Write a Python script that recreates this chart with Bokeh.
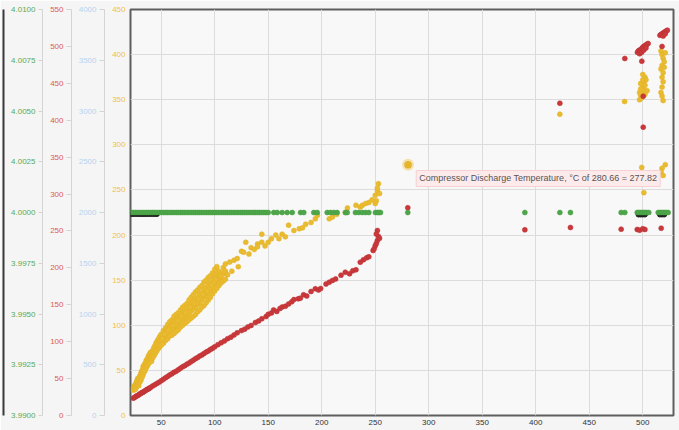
from bokeh.plotting import figure
from bokeh.models import Range1d, LinearAxis, FixedTicker, Label, CustomJSTickFormatter
from bokeh.embed import file_html
from bokeh.resources import INLINE

# ---------------- data ----------------
x_ticks = [50, 100, 150, 200, 250, 300, 350, 400, 450, 500]
yellow_ticks = [0, 50, 100, 150, 200, 250, 300, 350, 400, 450]
red_ticks = [0, 50, 100, 150, 200, 250, 300, 350, 400, 450, 500, 550]
blue_ticks = [0, 500, 1000, 1500, 2000, 2500, 3000, 3500, 4000]
green_ticks = [3.99, 3.9925, 3.995, 3.9975, 4.0, 4.0025, 4.005, 4.0075, 4.01]

# Compressor Discharge Temperature (yellow, inner left axis) - dense band
yb_x = [24, 24, 24, 25, 25, 25, 26, 26, 26, 27, 27, 27, 28, 28, 28, 29, 29, 29, 30, 30, 30,
        31, 31, 31, 32, 32, 32, 33, 33, 33, 34, 34, 34, 35, 35, 35, 36, 36, 36, 37, 37, 37,
        38, 38, 38, 39, 39, 39, 40, 40, 40, 41, 41, 41, 42, 42, 42, 43, 43, 43, 44, 44, 44,
        45, 45, 45, 46, 46, 46, 47, 47, 47, 48, 48, 48, 49, 49, 49, 50, 50, 50,
        52, 52, 52, 52, 54, 54, 54, 54, 56, 56, 56, 56, 58, 58, 58, 58, 60, 60, 60, 60,
        62, 62, 62, 62, 64, 64, 64, 64, 66, 66, 66, 66, 68, 68, 68, 68, 70, 70, 70, 70,
        72, 72, 72, 72, 74, 74, 74, 74, 76, 76, 76, 76, 78, 78, 78, 78, 80, 80, 80, 80,
        82, 82, 82, 82, 84, 84, 84, 84, 86, 86, 86, 86, 88, 88, 88, 88, 90, 90, 90, 90,
        92, 92, 92, 92, 94, 94, 94, 94, 96, 96, 96, 96, 98, 98, 98, 98, 100, 100, 100, 100,
        102, 102, 102, 102, 104, 104, 104, 106, 106, 108, 108, 108, 110, 110, 110,
        51, 55, 59, 63, 67, 71, 75, 79, 83, 87, 91, 95, 99, 103, 107,
        53, 57, 61, 65, 69, 73, 77, 81, 85, 89, 93, 97, 101, 105, 109]
yb_y = [28, 29.5, 31, 30, 31.5, 33, 29, 32, 35, 32, 35, 38, 34, 37.5, 41, 33, 36.5, 40, 37, 40.5, 44,
        39, 43, 47, 42, 46, 50, 45, 49.5, 54, 48, 52, 56, 50, 54, 58, 53, 57, 61, 55, 59, 63,
        57, 61.5, 66, 59, 63.5, 68, 62, 66, 70, 60, 63, 66, 64, 68, 72, 66, 70.5, 75, 68, 72.5, 77,
        70, 75, 80, 72, 77, 82, 74, 79, 84, 75, 80.5, 86, 77, 82.5, 88, 78, 84, 90,
        80, 85, 89, 94, 83, 88, 92, 97, 85, 90, 96, 101, 88, 93, 99, 104, 89, 95, 100, 106,
        91, 97, 104, 110, 93, 99, 106, 112, 95, 101, 108, 114, 98, 104, 111, 117, 100, 107, 113, 120,
        102, 109, 115, 122, 104, 111, 117, 124, 106, 113, 121, 128, 108, 116, 123, 131, 110, 118, 126, 134,
        112, 120, 129, 137, 115, 123, 131, 139, 117, 125, 134, 142, 120, 128, 136, 144, 122, 131, 139, 148,
        125, 133, 142, 150, 128, 136, 145, 153, 131, 139, 147, 155, 135, 143, 150, 158, 138, 146, 154, 162,
        141, 149, 157, 165, 144, 152, 160, 147, 152, 149, 157, 164, 151, 160, 168,
        85, 92, 97, 101, 107, 111, 115, 121, 125, 130, 135, 140, 147, 152, 157,
        90, 95, 100, 105, 110, 114, 120, 124, 129, 134, 138, 144, 151, 155, 160]

# yellow - scattered points
ys_x = [112, 114, 116, 118, 121, 122, 125, 127, 129, 132, 134, 137, 140, 140, 144, 144,
        147, 150, 153, 157, 160, 163, 166, 169, 174, 179, 182, 185, 190, 194, 196, 207,
        210, 214, 222, 224, 232, 236, 238, 241, 244, 247, 250, 251, 250, 252, 254, 252, 253,
        422.5, 483, 480, 495, 497, 499, 499, 500, 501,
        497, 498, 499, 500, 501, 502, 498, 500, 503, 499, 501, 497, 502, 500, 504, 498, 502,
        517, 518, 519, 520, 518, 517, 519, 518, 519, 518, 517, 518, 519, 521, 520,
        518, 517, 519, 521]
ys_y = [156, 170, 160, 172, 174, 165, 182, 181, 192, 179, 186, 184, 190, 187, 201, 192,
        188, 192, 196, 200, 196, 201, 198, 211, 205, 207, 208, 212, 214, 218, 222, 218,
        220, 223, 225, 230, 233, 231, 233, 235, 236, 239, 235, 238, 244, 249, 246, 252, 257,
        334, 348, 258, 264, 262, 275, 268, 258, 247,
        350, 355, 360, 365, 370, 375, 368, 378, 372, 352, 362, 358, 366, 372, 360, 362, 356,
        404, 400, 396, 392, 388, 384, 380, 375, 370, 364, 358, 354, 349, 402, 386,
        274, 270, 266, 278]

# second temperature series (red, red axis)
red_x = [24, 25, 26, 27, 28, 29, 30, 31, 32, 33, 34, 35, 36, 37, 38, 39, 40, 42, 44, 46,
         48, 50, 52, 54, 56, 58, 60, 62, 64, 66, 68, 70, 72, 74, 76, 78, 80, 82, 84, 86,
         88, 90, 92, 94, 96, 98, 100, 103, 106, 109, 112, 115, 118, 121, 125, 128, 131, 134, 138, 141,
         144, 148, 150, 153, 155, 158, 161, 163, 166, 169, 172, 174, 178, 180, 183, 186, 190, 194, 197, 199,
         204, 207, 210, 213, 218, 222, 226, 229, 232, 236, 239, 242, 244, 248, 249, 250, 251, 252, 253, 254,
         252, 251,
         280.4, 389.8, 422.5, 432.4, 479.8, 483.2, 494.8, 497, 500, 502, 499.1, 500.4, 500.4,
         495, 496, 497, 498, 499, 500, 501, 502, 503, 504, 505, 497, 499, 501, 503,
         516, 517, 518, 519, 520, 521, 522, 523, 519, 521, 518, 517.2]
red_y = [23.5, 24.5, 25.5, 26.5, 27, 28, 29, 30, 31, 31.5, 32.5, 33.5, 34.5, 35.5, 36, 37, 38, 40, 41.5, 43.5,
         45, 47, 49, 51, 53, 55, 56.5, 58.5, 60, 62, 64, 66, 67.5, 69.5, 71, 73, 75, 77, 78.5, 80.5,
         82, 84, 86, 87.5, 89.5, 91, 93, 96, 98.5, 101, 104, 106, 109, 112, 115, 117, 120, 122, 126, 128,
         131, 134, 137, 139, 143, 141, 145, 147, 148, 151, 154, 157, 158, 159, 163.5, 162, 168, 171.6, 170, 172,
         178, 180.6, 183, 185, 190, 194, 192, 196, 197.4, 207.7, 211, 213.6, 215, 223.5, 226, 230, 233, 237, 242.5, 240,
         250.6, 246,
         281.4, 251.5, 423, 254.7, 252.4, 483.6, 252, 251, 253, 252, 480, 390.6, 432.5,
         492, 494, 495, 495, 497, 499, 500, 501, 502, 503, 504, 490, 492, 495, 498,
         515, 516, 517, 518, 519, 520, 521, 522, 514, 517, 500, 253.7]

# constant series (green, green axis)
green_x = [22, 24, 26, 28, 30, 32, 34, 36, 38, 40, 42, 44, 46, 48, 50, 52, 54, 56, 58, 60,
           62, 64, 66, 68, 70, 72, 74, 76, 78, 80, 82, 84, 86, 88, 90, 92, 94, 96, 98, 100,
           102, 104, 106, 108, 110, 112, 114, 116, 118, 120, 122, 124, 126, 128, 130, 132, 134, 136, 138, 140,
           142, 144, 146, 148, 150,
           155.2, 158.4, 163, 167.7, 172.4, 180.2, 183.2, 192.6, 195.8, 205.1, 208.2, 211.3, 214.4,
           222.2, 223.8, 231.5, 234.6, 237.8, 240.9, 244, 250.2, 252, 253.5, 254.9, 280.4,
           389.8, 422.5, 432.4, 479.8, 483.2,
           494.8, 496.3, 497.8, 499.3, 500.8, 502.3, 503.8, 505.6,
           514.4, 515.9, 517.4, 518.9, 520.4, 521.9, 523.7]
green_y = [4.0] * len(green_x)

# black series (blue axis)
black_x = [22, 24, 26, 28, 30, 32, 34, 36, 38, 40, 42, 44, 46,
           496, 498, 500, 502, 516, 518, 520]
black_y = [1985, 1985, 1985, 1985, 1985, 1985, 1985, 1985, 1985, 1985, 1985, 1985, 1985,
           1980, 1980, 1980, 1980, 1980, 1980, 1980]

# hovered point
hover_x = [280.66]
hover_y = [277.82]
hover_text = "Compressor Discharge Temperature, \u00b0C of 280.66 = 277.82"

# ---------------- figure ----------------
FONT = "Liberation Sans"
p = figure(width=679, height=430, output_backend="svg", toolbar_location=None,
           x_range=Range1d(21.3, 528.7), y_range=Range1d(0, 450),
           min_border_top=9, min_border_right=6, min_border_bottom=15, min_border_left=130,
           background_fill_color="#f8f8f8", border_fill_color="#f5f5f5")
p.extra_y_ranges = {"blue": Range1d(0, 4000), "red": Range1d(0, 550),
                    "green": Range1d(3.99, 4.01)}

p.outline_line_color = "#5e5e5e"
p.outline_line_width = 2

p.xgrid.ticker = FixedTicker(ticks=x_ticks)
p.ygrid.ticker = FixedTicker(ticks=yellow_ticks)
p.xgrid.grid_line_color = "#dcdcdc"
p.ygrid.grid_line_color = "#dcdcdc"

xa = p.xaxis[0]
xa.ticker = FixedTicker(ticks=x_ticks)
xa.axis_line_color = None
xa.major_tick_line_color = None
xa.minor_tick_line_color = None
xa.major_tick_out = 0
xa.major_tick_in = 0
xa.major_label_standoff = 4
xa.major_label_text_font = FONT
xa.major_label_text_font_size = "8px"
xa.major_label_text_color = "#333333"

NB = "\u00a0\u00a0"


def pad_fmt(digits):
    return CustomJSTickFormatter(code="return '%s' + tick.toFixed(%d);" % (NB, digits))


ya = p.yaxis[0]
ya.ticker = FixedTicker(ticks=yellow_ticks)
ya.formatter = pad_fmt(0)
ya.axis_line_color = None
ya.major_tick_line_color = None
ya.minor_tick_line_color = None
ya.major_tick_out = 0
ya.major_tick_in = 0
ya.major_label_standoff = 5
ya.major_label_text_font = FONT
ya.major_label_text_font_size = "8px"
ya.major_label_text_color = "#f0c246"


def side_axis(name, ticks, color, digits, tick_out, standoff):
    ax = LinearAxis(y_range_name=name, ticker=FixedTicker(ticks=ticks), formatter=pad_fmt(digits))
    ax.axis_line_color = "#d4d4d4"
    ax.major_tick_line_color = "#d4d4d4"
    ax.minor_tick_line_color = None
    ax.major_tick_out = tick_out
    ax.major_tick_in = 0
    ax.major_label_standoff = standoff
    ax.major_label_text_font = FONT
    ax.major_label_text_font_size = "8px"
    ax.major_label_text_color = color
    p.add_layout(ax, "left")
    return ax


side_axis("blue", blue_ticks, "#b5d3f2", 0, 5, 3)
side_axis("red", red_ticks, "#dc5a55", 0, 5, 3)
side_axis("green", green_ticks, "#5aaa52", 4, 4, 3)

edge = LinearAxis(y_range_name="green", ticker=FixedTicker(ticks=[]))
edge.axis_line_color = "#3a3a3a"
edge.axis_line_width = 2
edge.major_tick_line_color = None
edge.minor_tick_line_color = None
edge.major_tick_out = 0
edge.major_tick_in = 0
edge.major_label_standoff = 0
p.add_layout(edge, "left")

# ---------------- data marks ----------------
p.scatter(black_x, black_y, y_range_name="blue", size=5, color="#1e1e1e")
p.scatter(yb_x + ys_x, yb_y + ys_y, size=5, fill_color="#e9bb30", line_color="#e2b025", line_width=0.5)
p.scatter(red_x, red_y, y_range_name="red", size=5, fill_color="#c9393b", line_color="#bd3034", line_width=0.5)
p.scatter(green_x, green_y, y_range_name="green", size=5, fill_color="#4ea64a", line_color="#449c41", line_width=0.5)

p.scatter(hover_x, hover_y, size=12, fill_color="#f3d27a", fill_alpha=0.6, line_color=None)
p.scatter(hover_x, hover_y, size=7, fill_color="#e6b52c", line_color="#d9a520", line_width=0.5)

tip = Label(x=288.3, y=262.7, text=hover_text, text_font=FONT, text_font_size="9px",
            text_color="#555555", text_baseline="middle", text_align="left",
            background_fill_color="#fdeaea", background_fill_alpha=1.0,
            border_line_color="#f6d0d3", border_line_width=1, padding=3)
p.add_layout(tip)

open("out.html", "w").write(file_html(p, INLINE))
